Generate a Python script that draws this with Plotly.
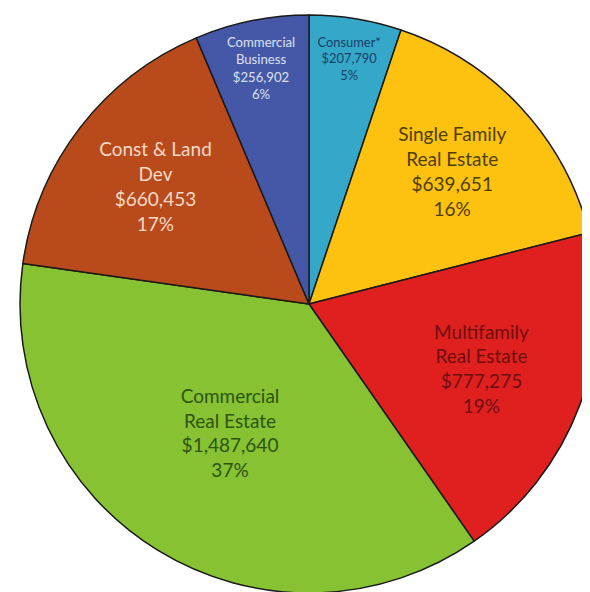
import plotly.graph_objects as go

categories = ["Consumer*", "Single Family<br>Real Estate", "Multifamily<br>Real Estate",
              "Commercial<br>Real Estate", "Const & Land<br>Dev", "Commercial<br>Business"]
values = [207790, 639651, 777275, 1487640, 660453, 256902]
value_labels = ["$207,790", "$639,651", "$777,275", "$1,487,640", "$660,453", "$256,902"]
pct_labels = ["5%", "16%", "19%", "37%", "17%", "6%"]
slice_colors = ["#35A8CA", "#FDC10F", "#E0201F", "#86C232", "#B84A1C", "#4558A8"]
text_colors = ["#173F66", "#4F3F05", "#6E0E0E", "#2D5410", "#F6D9C6", "#DCE0F2"]

fig = go.Figure(go.Pie(
    labels=categories,
    values=values,
    customdata=list(zip(value_labels, pct_labels)),
    texttemplate="%{label}<br>%{customdata[0]}<br>%{customdata[1]}",
    textposition="inside",
    insidetextorientation="horizontal",
    sort=False,
    direction="clockwise",
    rotation=0,
    marker=dict(colors=slice_colors, line=dict(color="#1a1a1a", width=1.5)),
    textfont=dict(family="Lato, 'Open Sans', sans-serif", size=19, color=text_colors),
    domain=dict(x=[12/590, 1], y=[0, 1]),
    showlegend=False,
    hoverinfo="skip",
))

fig.update_layout(
    width=590, height=592,
    margin=dict(l=0, r=0, t=0, b=0),
    paper_bgcolor="white",
    plot_bgcolor="white",
)

fig.write_html("out.html")
